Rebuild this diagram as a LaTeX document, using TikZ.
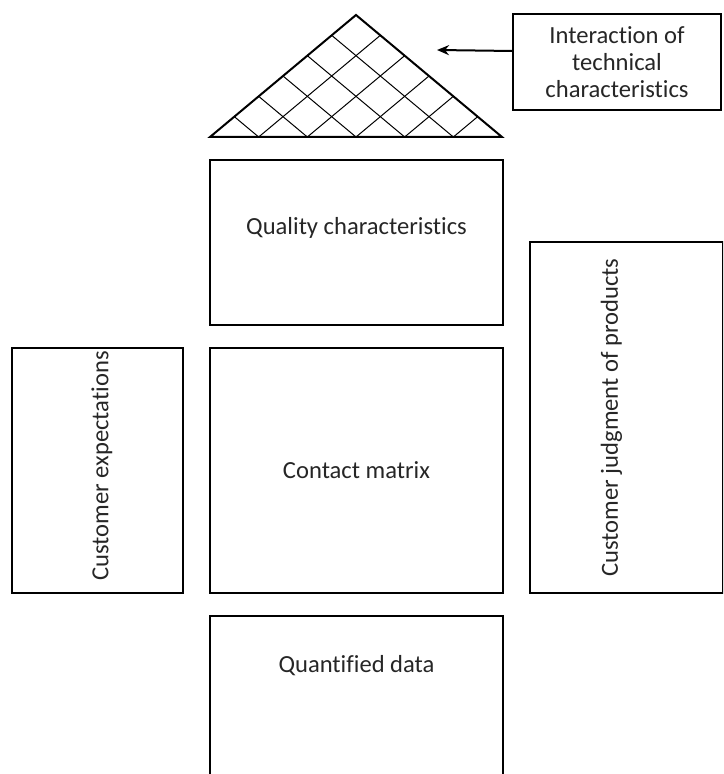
\documentclass[tikz,border=0pt]{standalone}
\usepackage{fontspec}
\setmainfont{Carlito}[Ligatures=NoCommon]
\usetikzlibrary{arrows.meta}
\usetikzlibrary{calc}
\usetikzlibrary{positioning}
\tikzstyle{block} = [draw, line width=1pt, minimum width=146.5pt, inner sep=0pt]
\tikzstyle{boxtext} = [font=\fontsize{12.3}{13.5}\selectfont, text=black!85, align=center, inner sep=0pt]
\tikzstyle{arrow} = [line width=1pt,-{Stealth[length=6pt,width=5pt]}]

\begin{document}
\begin{tikzpicture}[x=0.5pt,y=-0.5pt,node distance=10.5pt]
\useasboundingbox (0,0) rectangle (723,774);
\clip (0,0) rectangle (723,774);
% roof
\coordinate (l) at (210,137);
\coordinate (r) at (502,137);
\coordinate (t) at (356,15);
\foreach \i in {1,...,5}{
\draw[line width=0.5pt] ($(l)!\i/6!(r)$) -- ($(l)!\i/6!(t)$);
\draw[line width=0.5pt] ($(l)!\i/6!(r)$) -- ($(r)!{(6-\i)/6}!(t)$);
}
\draw[line width=1pt] (l) -- (t) -- (r) -- cycle;
% house
\node[block, minimum height=82.5pt, anchor=north west] (quality) at (209,159) {};
\node[block, minimum height=122.5pt, below=of quality] (contact) {};
\node[block, minimum height=100pt, below=of contact] (quantified) {};
\node[block, minimum width=85.5pt, minimum height=122.5pt, left=12.5pt of contact] (expect) {};
\node[block, minimum width=96.5pt, minimum height=175.5pt, anchor=south west] (judge) at ([xshift=12.5pt]contact.south east) {};
\node[block, minimum width=104pt, minimum height=48pt, anchor=north west] (tech) at (512,13) {};
% texts
\node[boxtext] (qualitytext) at ([yshift=7.25pt]quality.center) {Quality characteristics};
\node[boxtext] (contacttext) at (contact.center) {Contact matrix};
\node[boxtext] (quantifiedtext) at ([yshift=-25.5pt]quantified.north) {Quantified data};
\node[boxtext, rotate=90] (expecttext) at ([shift={(2.25pt,2.25pt)}]expect.center) {Customer expectations};
\node[boxtext, rotate=90] (judgetext) at ([xshift=-7.5pt]judge.center) {Customer judgment of products};
\node[boxtext] (techtext) at (tech.center) {Interaction of\\technical\\characteristics};
% arrow
\coordinate (roof) at (437,50);
\draw[arrow] ([yshift=5.5pt]tech.west) -- (roof);
\end{tikzpicture}
\end{document}
